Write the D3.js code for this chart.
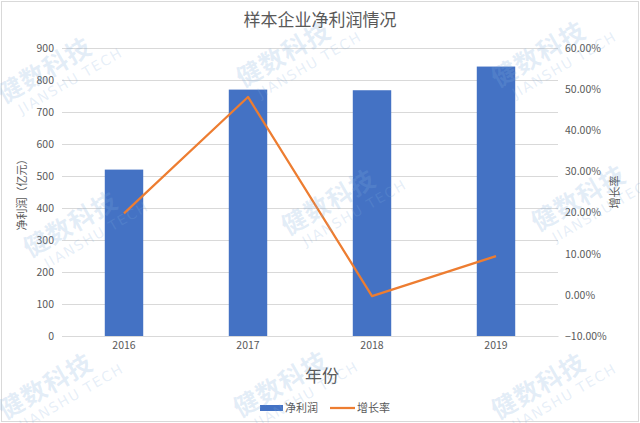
<!DOCTYPE html>
<html><head><meta charset="utf-8">
<script src="https://cdn.jsdelivr.net/npm/d3@7"></script>
<style>
html,body{margin:0;padding:0;background:#fff;}
svg{display:block;font-family:"Noto Sans CJK SC","Noto Sans",sans-serif;}
</style></head>
<body><svg id="c" width="640" height="423"></svg>
<script>
const years = ["2016","2017","2018","2019"];
const profit = [520, 770, 768, 842];
const growth = [0.198, 0.481, -0.003, 0.094];
const leftTicks = [0,100,200,300,400,500,600,700,800,900];
const rightTicks = [-0.1,0,0.1,0.2,0.3,0.4,0.5,0.6];
const title = "样本企业净利润情况";
const leftTitle = "净利润（亿元）";
const rightTitle = "增长率";
const xTitle = "年份";
const legendNames = ["净利润","增长率"];
const wmMain = "健数科技", wmSub = "JIANSHU TECH";
const wmSpots = [[4,104],[243,88],[498,88],[30,258],[288,236],[538,232],[5,420],[240,418],[498,420]];

const svg = d3.select("#c");
const L=62,R=558,T=48,B=336;
const txt="#595959", grid="#d9d9d9";
const blue="#4472c4", orange="#ed7d31";

svg.append("rect").attr("x",1.5).attr("y",1.5).attr("width",637).attr("height",420)
  .attr("fill","#fff").attr("stroke",grid);

const x = d3.scaleBand().domain(years).range([L,R]).paddingInner(0.69).paddingOuter(0.345);
const y = d3.scaleLinear().domain([0,900]).range([B,T]);
const y2 = d3.scaleLinear().domain([-0.1,0.6]).range([B,T]);

// gridlines
svg.append("g").selectAll("line").data(leftTicks).join("line")
  .attr("x1",L).attr("x2",R).attr("y1",d=>y(d)+0.5).attr("y2",d=>y(d)+0.5)
  .attr("stroke",grid).attr("stroke-width",1);

// left axis
const ya = svg.append("g").attr("transform",`translate(${L-8},0)`)
  .call(d3.axisLeft(y).tickValues(leftTicks).tickSize(0).tickPadding(0));
ya.select(".domain").remove();
ya.selectAll("text").attr("fill",txt).attr("font-size",10.5).attr("font-family","Noto Sans CJK SC");

// right axis
const ya2 = svg.append("g").attr("transform",`translate(${R+7},0)`)
  .call(d3.axisRight(y2).tickValues(rightTicks).tickFormat(d3.format(".2%")).tickSize(0).tickPadding(0));
ya2.select(".domain").remove();
ya2.selectAll("text").attr("fill",txt).attr("font-size",10.5).attr("font-family","Noto Sans CJK SC");

// x axis
const xa = svg.append("g").attr("transform",`translate(0,${B})`)
  .call(d3.axisBottom(x).tickSize(0).tickPadding(6));
xa.select(".domain").attr("stroke",grid);
xa.selectAll("text").attr("fill",txt).attr("font-size",10.5).attr("font-family","Noto Sans CJK SC");

// bars
svg.append("g").selectAll("rect").data(years).join("rect")
  .attr("x",d=>x(d)).attr("width",x.bandwidth())
  .attr("y",(d,i)=>y(profit[i])).attr("height",(d,i)=>B-y(profit[i]))
  .attr("fill",blue);

// line
const line = d3.line().x((d,i)=>x(years[i])+x.bandwidth()/2).y(d=>y2(d));
svg.append("path").datum(growth).attr("d",line).attr("fill","none")
  .attr("stroke",orange).attr("stroke-width",2.25).attr("stroke-linejoin","round");

// titles
svg.append("text").attr("x",320).attr("y",26).attr("text-anchor","middle")
  .attr("font-size",17).attr("fill",txt).text(title);
svg.append("text").attr("transform",`translate(26,${(T+B)/2}) rotate(-90)`).attr("text-anchor","middle")
  .attr("font-size",11).attr("fill",txt).text(leftTitle);
svg.append("text").attr("transform",`translate(619,${(T+B)/2}) rotate(-90)`).attr("text-anchor","middle")
  .attr("font-size",11).attr("fill",txt).text(rightTitle);
svg.append("text").attr("x",322).attr("y",382).attr("text-anchor","middle")
  .attr("font-size",17).attr("fill",txt).text(xTitle);

// legend
const lg = svg.append("g");
lg.append("rect").attr("x",260).attr("y",405).attr("width",23).attr("height",6).attr("fill",blue);
lg.append("text").attr("x",285).attr("y",412).attr("font-size",11).attr("fill",txt).text(legendNames[0]);
lg.append("line").attr("x1",330).attr("x2",355).attr("y1",408).attr("y2",408).attr("stroke",orange).attr("stroke-width",2.25);
lg.append("text").attr("x",357).attr("y",412).attr("font-size",11).attr("fill",txt).text(legendNames[1]);

// watermarks
const wm = svg.append("g").attr("pointer-events","none");
wmSpots.forEach(([px,py])=>{
  const g = wm.append("g").attr("transform",`translate(${px},${py}) rotate(-30)`);
  g.append("text").attr("x",0).attr("y",0).attr("font-size",25).attr("font-weight","bold")
    .attr("fill","#7fadde").attr("fill-opacity",0.22).attr("letter-spacing",1).text(wmMain);
  g.append("text").attr("x",10).attr("y",18).attr("font-size",14)
    .attr("font-family","DejaVu Sans")
    .attr("fill","#7fadde").attr("fill-opacity",0.2).attr("letter-spacing",1.5).text(wmSub);
});
</script></body></html>
